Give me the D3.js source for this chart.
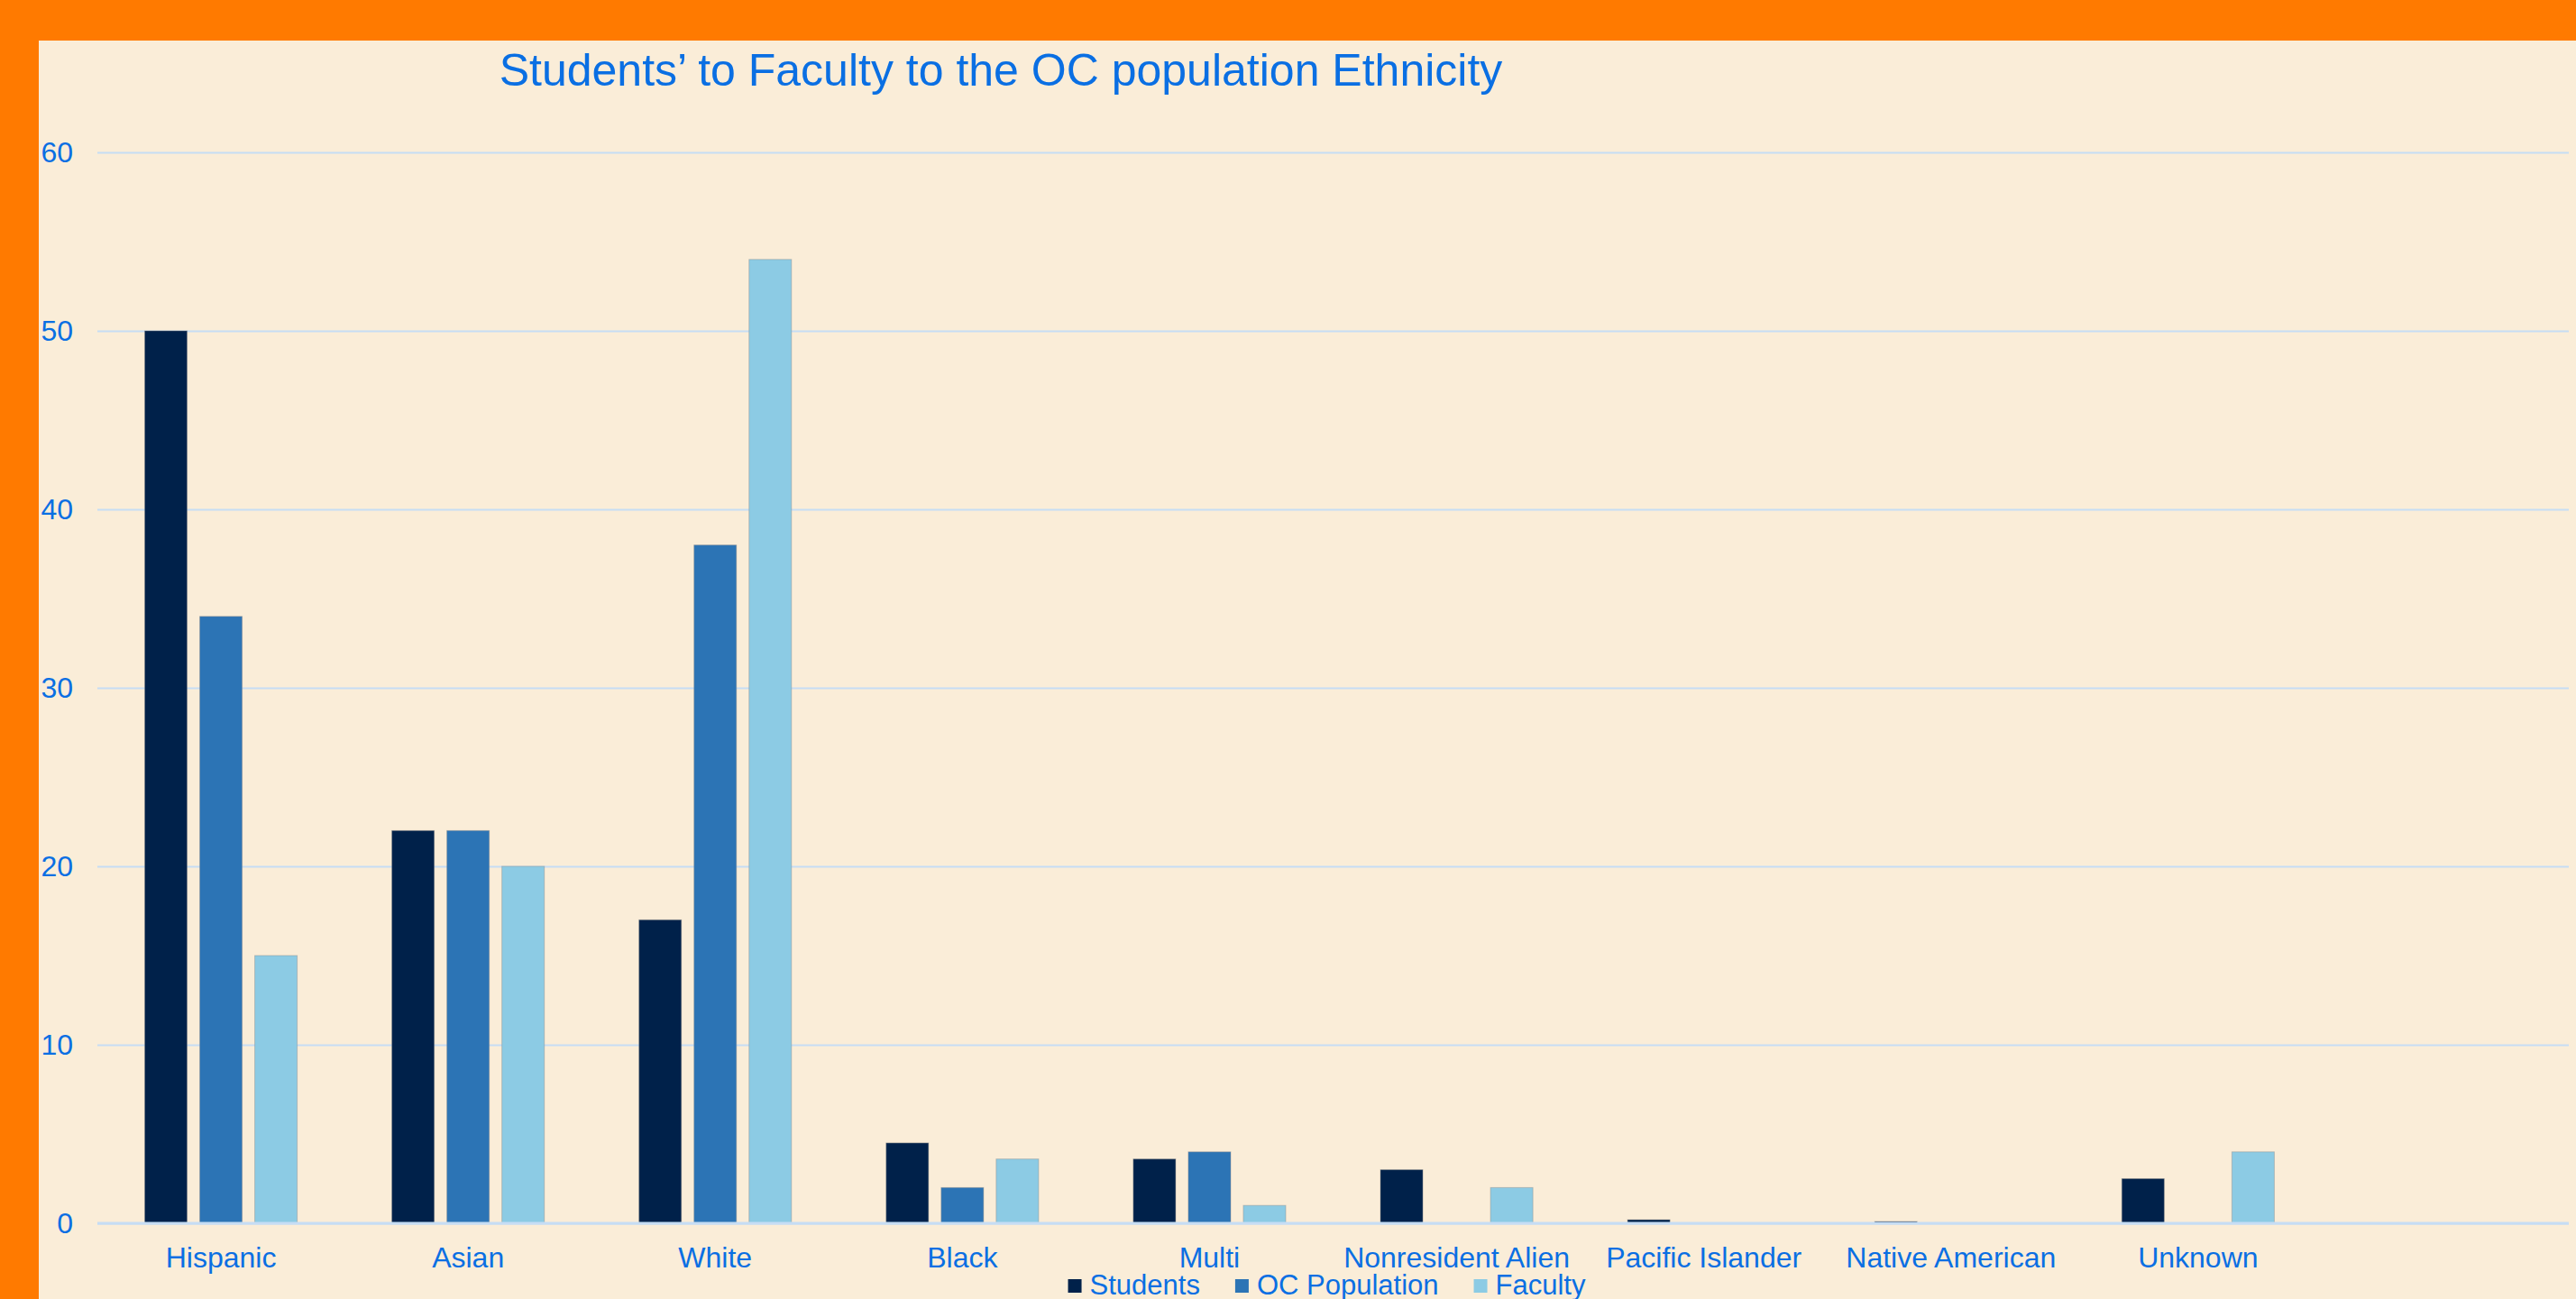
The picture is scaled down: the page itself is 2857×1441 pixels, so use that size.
<!DOCTYPE html>
<html>
<head>
<meta charset="utf-8">
<script src="https://cdn.jsdelivr.net/npm/d3@7/dist/d3.min.js"></script>
<style>
  html, body { margin: 0; padding: 0; background: #faedd8; }
  svg { display: block; }
  text { font-family: "Liberation Sans", Arial, sans-serif; }
</style>
</head>
<body>
<svg id="chart" width="2857" height="1441"></svg>
<script>
const categories = ["Hispanic", "Asian", "White", "Black", "Multi", "Nonresident Alien", "Pacific Islander", "Native American", "Unknown", ""];
const seriesNames = ["Students", "OC Population", "Faculty"];
const students     = [50, 22, 17, 4.5, 3.6, 3, 0.2, 0.1, 2.5, 0];
const ocPopulation = [34, 22, 38, 2, 4, 0, 0, 0, 0, 0];
const faculty      = [15, 20, 54, 3.6, 1, 2, 0, 0, 4, 0];
const yTicks = [0, 10, 20, 30, 40, 50, 60];
const title = "Students\u2019 to Faculty to the OC population Ethnicity";

const seriesValues = [students, ocPopulation, faculty];
const colors = ["#00214a", "#2c74b5", "#8ccbe4"];
const textColor = "#0a6fe3";
const gridColor = "#c6ddf4";

const W = 2857, H = 1441;
const plotLeft = 108, plotRight = 2849, plotTop = 169, plotBottom = 1357;

const svg = d3.select("#chart");

// background and orange frame
svg.append("rect").attr("x", 0).attr("y", 0).attr("width", W).attr("height", H).attr("fill", "#faedd8");
svg.append("rect").attr("x", 0).attr("y", 0).attr("width", W).attr("height", 45).attr("fill", "#ff7a00");
svg.append("rect").attr("x", 0).attr("y", 0).attr("width", 43).attr("height", H).attr("fill", "#ff7a00");

const x0 = d3.scaleBand().domain(categories).range([plotLeft, plotRight])
  .paddingInner(0.383).paddingOuter(0.1915);
const x1 = d3.scaleBand().domain(seriesNames).range([0, x0.bandwidth()])
  .paddingInner(0.2295).paddingOuter(0);
const y = d3.scaleLinear().domain([0, 60]).range([plotBottom, plotTop]);
const color = d3.scaleOrdinal().domain(seriesNames).range(colors);

// gridlines
const yAxis = d3.axisLeft(y).tickValues(yTicks).tickSize(-(plotRight - plotLeft)).tickPadding(27);
const gy = svg.append("g").attr("transform", `translate(${plotLeft},0)`).call(yAxis);
gy.select(".domain").remove();
gy.selectAll(".tick line").attr("stroke", gridColor).attr("stroke-width", 2);
gy.selectAll(".tick text")
  .attr("fill", textColor)
  .style("font-size", "32px")
  .style("font-family", "'Liberation Sans', Arial, sans-serif");

// bars
const rows = categories.map((c, i) => ({
  cat: c,
  vals: seriesNames.map((s, k) => ({ series: s, value: seriesValues[k][i] }))
}));

const groups = svg.append("g").selectAll("g").data(rows).join("g")
  .attr("transform", d => `translate(${x0(d.cat)},0)`);

groups.selectAll("rect").data(d => d.vals.filter(v => v.value > 0)).join("rect")
  .attr("x", d => x1(d.series))
  .attr("width", x1.bandwidth())
  .attr("y", d => y(d.value))
  .attr("height", d => y(0) - y(d.value))
  .attr("fill", d => color(d.series))
  .attr("stroke", "rgba(140,140,140,0.45)")
  .attr("stroke-width", 1);

// x axis line
const xAxis = d3.axisBottom(x0).tickSize(0).tickPadding(26);
const gx = svg.append("g").attr("transform", `translate(0,${plotBottom})`).call(xAxis);
gx.select(".domain").attr("stroke", gridColor).attr("stroke-width", 3)
  .attr("d", `M${plotLeft},0H${plotRight}`);
gx.selectAll(".tick text")
  .attr("fill", textColor)
  .style("font-size", "32px")
  .style("font-family", "'Liberation Sans', Arial, sans-serif");

// title
svg.append("text")
  .attr("x", 1110).attr("y", 95)
  .attr("text-anchor", "middle")
  .attr("fill", textColor)
  .style("font-size", "50px")
  .text(title);

// legend
const legend = svg.append("g");
const items = legend.selectAll("g").data(seriesNames).join("g");
items.append("rect").attr("width", 15).attr("height", 15).attr("y", 1419)
  .attr("fill", d => color(d));
items.append("text").attr("y", 1436).attr("fill", textColor)
  .style("font-size", "31px").text(d => d);
let cx = 0;
const positions = [];
items.each(function () {
  const t = d3.select(this).select("text");
  const w = t.node().getComputedTextLength();
  positions.push(cx);
  cx += 15 + 9 + w + 39;
});
const totalW = cx - 39;
const startX = 1471.5 - totalW / 2;
items.each(function (d, i) {
  const g = d3.select(this);
  g.select("rect").attr("x", startX + positions[i]);
  g.select("text").attr("x", startX + positions[i] + 24);
});
</script>
</body>
</html>
